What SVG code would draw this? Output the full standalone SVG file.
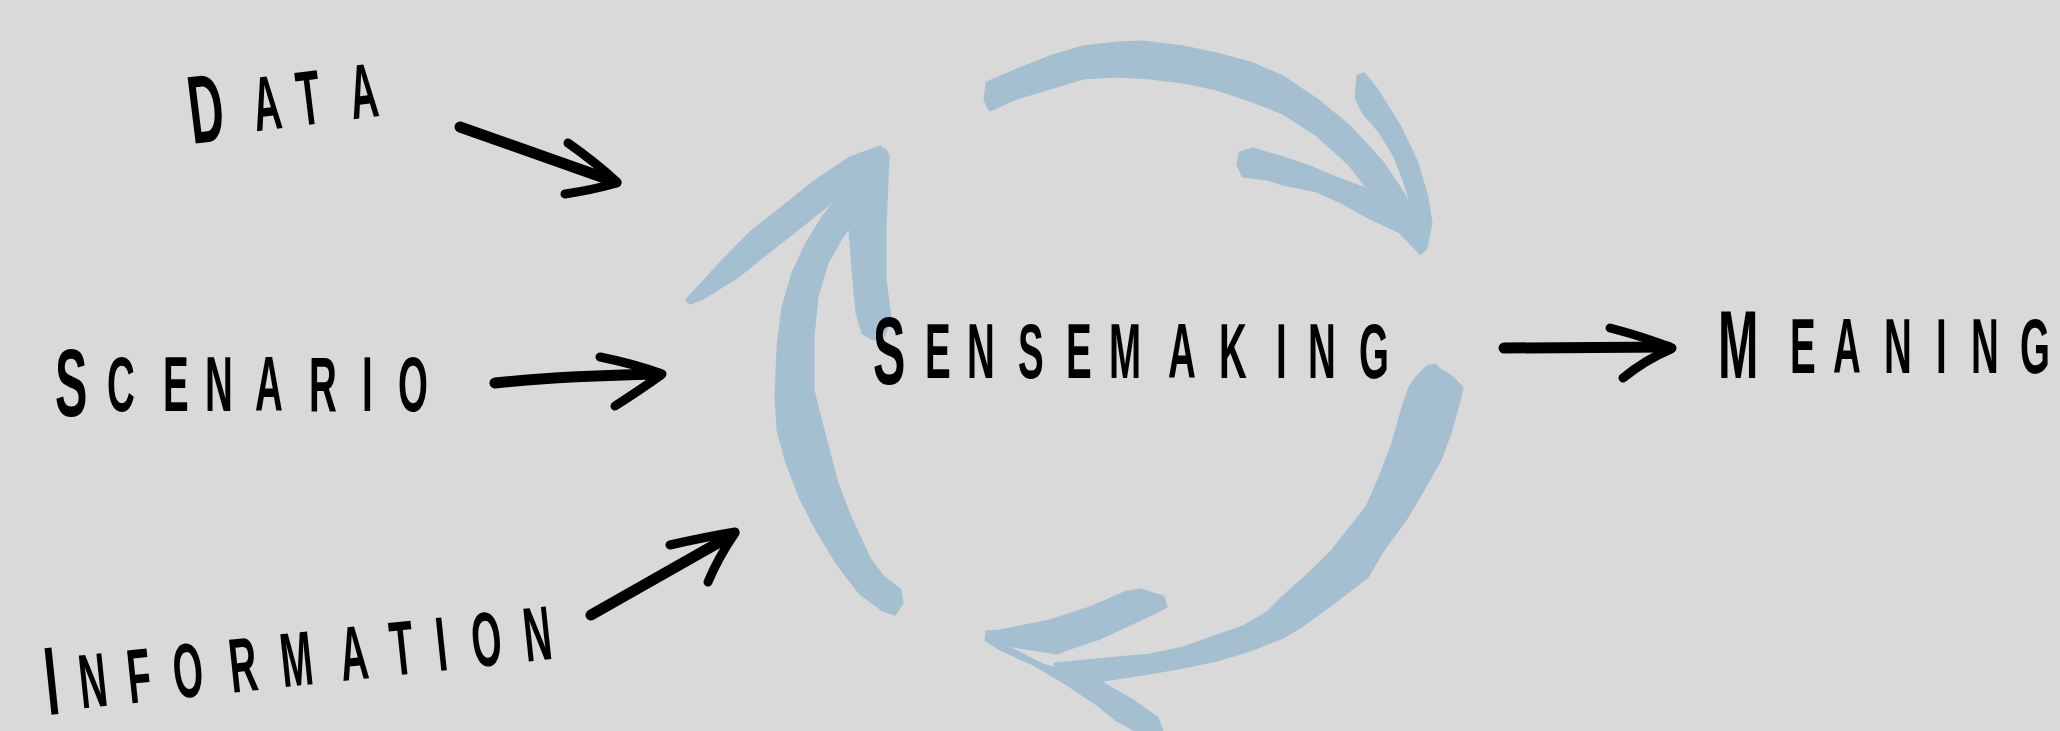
<svg xmlns="http://www.w3.org/2000/svg" width="2060" height="731" viewBox="0 0 2060 731">
<style>
.lbl{font-family:"Liberation Sans",Arial,sans-serif;font-weight:bold;fill:#000}
.cap{font-size:97px}
.sm{font-size:77px}
.ink{fill:none;stroke:#000;stroke-linecap:round;stroke-linejoin:round}
.brush{fill:#a4bfd0;stroke:#a4bfd0;stroke-width:3;stroke-linejoin:round}
</style>
<rect width="2060" height="731" fill="#d9d9d9"/>
<g id="connectors">
  <g id="cycle-top" class="brush">
    <path d="M987,83 L1017,70 L1050,57 L1083,47 L1117,43 L1143,42 L1183,47 L1217,54 L1250,63 L1283,77 L1317,100 L1350,127 L1383,163 L1403,193 L1418,225 L1424,250 L1420,253 L1400,232 L1373,195 L1350,165 L1317,135 L1283,113 L1250,100 L1217,89 L1183,82 L1150,78 L1117,76 L1083,78 L1050,88 L1017,98 L990,110 L985,100 Z"/>
    <path d="M1358,76 L1364,74 L1377,90 L1400,127 L1417,163 L1427,197 L1431,223 L1426,248 L1420,253 L1413,225 L1412,207 L1405,183 L1395,157 L1380,132 L1363,112 L1356,97 Z"/>
    <path d="M1240,153 L1253,149 L1283,158 L1310,167 L1333,177 L1360,187 L1375,193 L1400,232 L1370,218 L1343,203 L1317,191 L1283,184 L1267,179 L1243,176 L1238,165 Z"/>
  </g>
  <g id="cycle-right" class="brush">
    <path d="M1417,377 L1427,367 L1435,365 L1440,370 L1453,378 L1462,388 L1460,397 L1450,433 L1440,460 L1423,490 L1407,517 L1383,550 L1367,577 L1333,603 L1300,627 L1283,637 L1250,650 L1217,660 L1183,667 L1150,673 L1117,678 L1090,682 L1060,677 L1055,664 L1117,658 L1150,655 L1183,648 L1243,627 L1267,613 L1283,597 L1310,573 L1333,550 L1367,507 L1380,477 L1393,443 L1403,407 L1410,387 Z"/>
    <path d="M987,632 L1000,631 L1050,621 L1090,608 L1127,592 L1140,590 L1163,597 L1166,607 L1137,621 L1100,638 L1067,649 L1057,653 L1007,645 L990,640 Z"/>
    <path d="M987,632 L1003,645 L1043,665 L1100,682 L1130,699 L1157,718 L1162,731 L1137,731 L1117,720 L1097,704 L1067,684 L1033,664 L1000,649 L986,640 Z"/>
  </g>
  <g id="cycle-left" class="brush">
    <path d="M885,150 L860,165 L837,200 L823,217 L807,243 L793,273 L783,307 L778,347 L776,397 L778,430 L787,463 L800,497 L817,530 L837,563 L860,593 L883,610 L895,614 L902,603 L900,590 L883,577 L870,560 L850,517 L837,483 L823,430 L813,390 L813,337 L817,297 L827,263 L840,240 L852,222 L870,195 L888,160 Z"/>
    <path d="M880,150 L888,155 L887,180 L885,230 L885,280 L890,317 L884,336 L873,339 L863,333 L857,313 L853,270 L850,230 L848,185 Z"/>
    <path d="M687,300 L717,267 L750,233 L783,207 L817,180 L850,158 L880,147 L886,152 L855,178 L830,203 L800,227 L767,253 L737,277 L703,298 L690,303 Z"/>
  </g>
  <g id="arrow-data" class="ink">
    <path d="M460,127 L613,181" stroke-width="11"/>
    <path d="M568,143 Q595,162 617,182" stroke-width="9"/>
    <path d="M565,194 Q592,190 617,183" stroke-width="9"/>
  </g>
  <g id="arrow-scenario" class="ink">
    <path d="M495,383 Q560,376 659,374" stroke-width="11"/>
    <path d="M600,357 Q635,364 662,374" stroke-width="9"/>
    <path d="M615,406 Q640,390 661,375" stroke-width="9"/>
  </g>
  <g id="arrow-information" class="ink">
    <path d="M591,615 L732,535" stroke-width="11"/>
    <path d="M670,545 Q705,537 735,532" stroke-width="9"/>
    <path d="M708,582 Q718,558 735,533" stroke-width="9"/>
  </g>
  <g id="arrow-meaning" class="ink">
    <path d="M1504,348 L1668,347" stroke-width="11"/>
    <path d="M1610,328 Q1645,337 1672,348" stroke-width="9"/>
    <path d="M1623,378 Q1645,360 1671,349" stroke-width="9"/>
  </g>
</g>
<g id="node-data">
  <text class="lbl" transform="translate(192 139) rotate(-7) scale(0.5 1)"><tspan class="cap" x="0" y="5">D</tspan><tspan class="sm" x="129 218 324" y="0">ATA</tspan></text>
</g>
<g id="node-scenario">
  <text class="lbl" transform="scale(0.5 1)"><tspan class="cap" x="110" y="416">S</tspan><tspan class="sm" x="214 326 410 510 618 724 796" y="411">CENARIO</tspan></text>
</g>
<g id="node-information">
  <text class="lbl" transform="translate(48 712) rotate(-6) scale(0.5 1)"><tspan class="cap" x="0" y="3">I</tspan><tspan class="sm" x="68 165 257 370 473 592 694 786 857 962" y="0">NFORMATION</tspan></text>
</g>
<g id="node-sensemaking">
  <text class="lbl" transform="scale(0.5 1)"><tspan class="cap" x="1746" y="384">S</tspan><tspan class="sm" x="1850 1934 2036 2132 2218 2336 2438 2552 2616 2718" y="378">ENSEMAKING</tspan></text>
</g>
<g id="node-meaning">
  <text class="lbl" transform="scale(0.5 1)"><tspan class="cap" x="3436" y="378">M</tspan><tspan class="sm" x="3580 3666 3768 3872 3942 4040" y="373">EANING</tspan></text>
</g>
</svg>
